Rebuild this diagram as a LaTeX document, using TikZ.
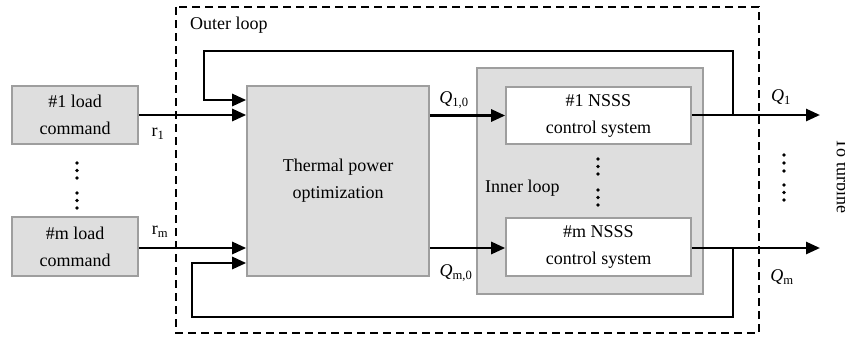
\documentclass[tikz,border=0pt]{standalone}
\usepackage{fontspec}
\setmainfont{Liberation Serif}
\usetikzlibrary{arrows.meta,calc}
\definecolor{boxfill}{HTML}{DEDEDE}
\definecolor{boxedge}{HTML}{9E9E9E}
\tikzset{
  graybox/.style={draw=boxedge,line width=1.6pt,fill=boxfill,align=center,inner sep=0pt},
  whitebox/.style={draw=boxedge,line width=1.6pt,fill=white,align=center,inner sep=0pt},
  sig/.style={line width=2.7pt,-{Triangle[length=14pt,width=12pt]}},
  wire/.style={line width=2.7pt},
  lbl/.style={inner sep=0pt},
  dotmark/.style={fill=black,circle,inner sep=0pt,minimum size=3.8pt}
}
\begin{document}
\begin{tikzpicture}[x=1pt,y=-1pt,font=\fontsize{18}{27}\selectfont]
\useasboundingbox (0,0) rectangle (845,338);
% outer loop
\draw[line width=2.5pt,dash pattern=on 8pt off 5pt] (176,7) rectangle (759,333);
\node[lbl,anchor=west] (outer) at (190,25) {Outer loop};
% boxes
\node[graybox,minimum width=126pt,minimum height=58pt] (load1) at (75,115) {\#1 load\\command};
\node[graybox,minimum width=126pt,minimum height=59pt] (loadm) at (75,246.5) {\#m load\\command};
\node[graybox,minimum width=182pt,minimum height=190pt] (therm) at (338,181) {Thermal power\\optimization};
\node[graybox,minimum width=226pt,minimum height=226pt] (inner) at (590,181) {};
\node[lbl,anchor=west] (innerlbl) at (485,188) {Inner loop};
\node[whitebox,minimum width=185pt,minimum height=57pt] (nsss1) at (598.5,115.5) {\#1 NSSS\\control system};
\node[whitebox,minimum width=185pt,minimum height=58pt] (nsssm) at (598.5,247) {\#m NSSS\\control system};
% coordinates
\coordinate (out1) at (820,115);
\coordinate (outm) at (820,248);
\coordinate (tap1) at (733,115);
\coordinate (tapm) at (733,248);
\coordinate (top1) at (204,51);
\coordinate (bot1) at (192,317);
\coordinate (fb1) at ($(therm.west)+(0,-81)$);
\coordinate (fbm) at ($(therm.west)+(0,82)$);
% signals
\draw[sig] (load1.east) -- (load1.east -| therm.west);
\draw[sig] (loadm.east |- 0,248) -- (therm.west |- 0,248);
\draw[sig] (therm.east |- nsss1.west) -- (nsss1.west);
\draw[sig] (therm.east |- 0,248) -- (nsssm.west |- 0,248);
\draw[sig] (nsss1.east |- out1) -- (out1);
\draw[sig] (nsssm.east |- outm) -- (outm);
\draw[wire,-{Triangle[length=14pt,width=12pt]}] (tap1) |- (top1) |- (fb1);
\draw[wire,-{Triangle[length=14pt,width=12pt]}] (tapm) |- (bot1) |- (fbm);
% labels
\node[lbl] (r1) at (158,134) {r\textsubscript{1}};
\node[lbl] (rm) at (160,232) {r\textsubscript{m}};
\node[lbl] (q10) at (454,100) {\textit{Q}\textsubscript{1,0}};
\node[lbl] (qm0) at (456,273) {\textit{Q}\textsubscript{m,0}};
\node[lbl] (q1) at (781,97) {\textit{Q}\textsubscript{1}};
\node[lbl] (qm) at (782,277) {\textit{Q}\textsubscript{m}};
\node[lbl,rotate=-90] (turb) at (843,176) {To turbine};
% dots
\foreach \y [count=\i] in {163,170.5,178,193,200.5,208} \node[dotmark] (dl\i) at (77,\y) {};
\foreach \y [count=\i] in {159,166.5,174,190,197.5,205} \node[dotmark] (dc\i) at (598,\y) {};
\foreach \y [count=\i] in {155,163,171,185,192.5,200} \node[dotmark] (dr\i) at (784,\y) {};
\end{tikzpicture}
\end{document}
